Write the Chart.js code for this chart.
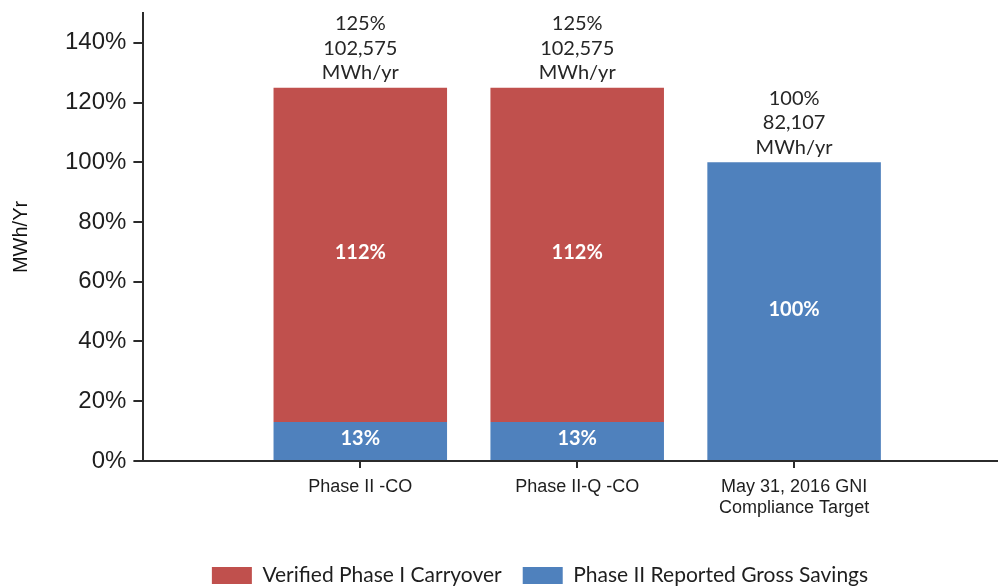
<!DOCTYPE html>
<html>
<head>
<meta charset="utf-8">
<script src="https://cdn.jsdelivr.net/npm/chart.js@4.4.1/dist/chart.umd.min.js"></script>
<style>
  html, body { margin: 0; padding: 0; background: #fff; }
  #wrap { width: 998px; height: 587px; position: relative; }
</style>
</head>
<body>
<div id="wrap"><canvas id="chart"></canvas></div>
<script>
// chart values
const categories = [['Phase II -CO'], ['Phase II-Q -CO'], ['May 31, 2016 GNI', 'Compliance Target']];
const reportedSavings = [13, 13, 100];     // Phase II Reported Gross Savings (%)
const carryover = [112, 112, 0];           // Verified Phase I Carryover (%)
const totalPercent = [125, 125, 100];
const totalMWh = [102575, 102575, 82107];
const yTicks = [0, 20, 40, 60, 80, 100, 120, 140];

const RED = '#C0504D';
const BLUE = '#4F81BD';
const AXIS = '#2b2b2b';

// slot positions 1..n on a linear axis, so there is an empty slot left of the first bar
const toPoints = arr => arr.map((v, i) => ({ x: i + 1, y: v }));

const barLabels = {
    id: 'barLabels',
    afterDatasetsDraw(chart) {
        const ctx = chart.ctx;
        ctx.save();
        ctx.textAlign = 'center';
        ctx.textBaseline = 'middle';

        // values inside the segments
        ctx.font = 'bold 20px Lato';
        ctx.fillStyle = '#ffffff';
        chart.data.datasets.forEach((ds, di) => {
            const meta = chart.getDatasetMeta(di);
            meta.data.forEach((bar, i) => {
                const v = ds.data[i].y;
                if (!v) return;
                ctx.fillText(v + '%', bar.x, (bar.y + bar.base) / 2 - 2);
            });
        });

        // totals above each stack
        ctx.font = '20px Lato';
        ctx.fillStyle = '#262626';
        categories.forEach((c, i) => {
            let top = Infinity, x = 0;
            chart.data.datasets.forEach((ds, di) => {
                const bar = chart.getDatasetMeta(di).data[i];
                if (ds.data[i].y) { top = Math.min(top, bar.y); x = bar.x; }
            });
            const lines = [totalPercent[i] + '%', totalMWh[i].toLocaleString('en-US'), 'MWh/yr'];
            lines.forEach((t, k) => {
                ctx.fillText(t, x, top - 15 - (lines.length - 1 - k) * 24.5);
            });
        });
        ctx.restore();
    }
};

// nudge the legend so it sits where the original one was
const legendShift = {
    id: 'legendShift',
    afterLayout(chart) {
        chart.legend.left += 39;
        chart.legend.right += 39;
    }
};

new Chart(document.getElementById('chart'), {
    type: 'bar',
    data: {
        datasets: [
            {
                label: 'Phase II Reported Gross Savings',
                data: toPoints(reportedSavings),
                backgroundColor: BLUE
            },
            {
                label: 'Verified Phase I Carryover',
                data: toPoints(carryover),
                backgroundColor: RED
            }
        ]
    },
    options: {
        responsive: true,
        maintainAspectRatio: false,
        animation: false,
        categoryPercentage: 1,
        barPercentage: 0.8,
        layout: { padding: { top: 13, left: 4, right: 0, bottom: -9 } },
        scales: {
            x: {
                type: 'linear',
                stacked: true,
                offset: false,
                min: 0,
                max: 3.94,
                afterBuildTicks: scale => {
                    scale.ticks = categories.map((c, i) => ({ value: i + 1 }));
                },
                afterFit: scale => {
                    scale.height += 16;
                },
                grid: {
                    display: true,
                    offset: false,
                    drawOnChartArea: false,
                    drawTicks: true,
                    tickLength: 7,
                    color: AXIS,
                    lineWidth: 2
                },
                border: { display: true, color: AXIS, width: 2 },
                ticks: {
                    autoSkip: false,
                    maxRotation: 0,
                    padding: 9,
                    color: '#1e1e1e',
                    font: { family: 'Liberation Sans', size: 18, lineHeight: 1.17 },
                    callback: value => categories[value - 1] || ''
                }
            },
            y: {
                stacked: true,
                min: 0,
                max: 150,
                afterBuildTicks: scale => {
                    scale.ticks = yTicks.map(v => ({ value: v }));
                },
                afterFit: scale => {
                    // top tick is 140, so no room is needed for a label at the very top
                    scale.paddingTop = 0;
                },
                grid: {
                    display: true,
                    drawOnChartArea: false,
                    drawTicks: true,
                    tickLength: 10,
                    color: AXIS,
                    lineWidth: 2
                },
                border: { display: true, color: AXIS, width: 2 },
                ticks: {
                    padding: 7,
                    color: '#1e1e1e',
                    font: { family: 'Liberation Sans', size: 24 },
                    callback: v => v + '%'
                },
                title: {
                    display: true,
                    text: 'MWh/Yr',
                    color: '#111',
                    font: { family: 'Liberation Sans', size: 20 },
                    padding: { top: 5, bottom: 25 }
                }
            }
        },
        plugins: {
            legend: {
                position: 'bottom',
                reverse: true,
                labels: {
                    boxWidth: 40,
                    boxHeight: 17,
                    padding: 21,
                    color: '#1e1e1e',
                    font: { family: 'Lato', size: 21 }
                }
            },
            tooltip: { enabled: false }
        }
    },
    plugins: [barLabels, legendShift]
});
</script>
</body>
</html>
